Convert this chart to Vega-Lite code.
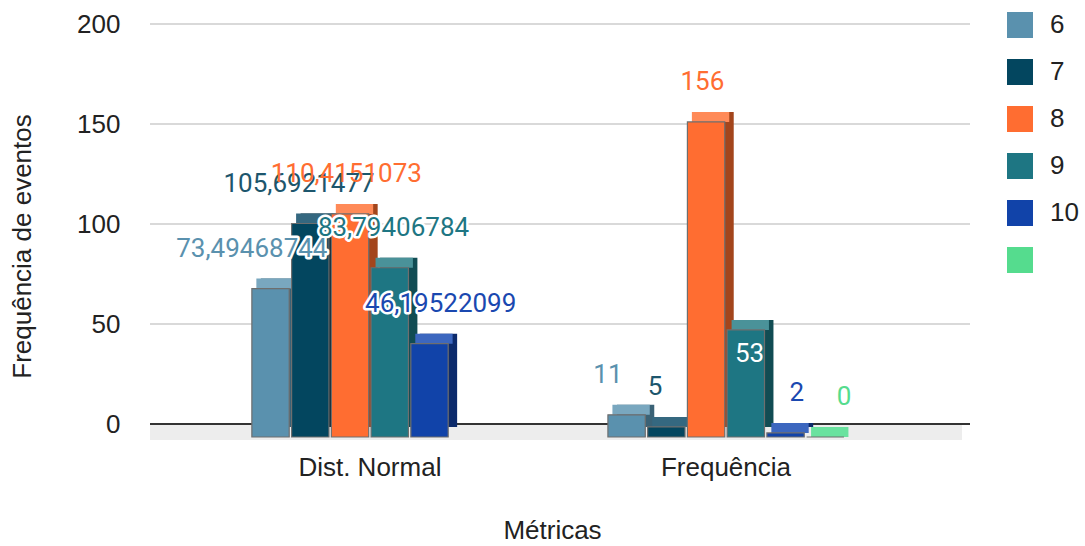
{
  "$schema": "https://vega.github.io/schema/vega-lite/v6.json",
  "width": 820,
  "height": 404,
  "autosize": {"type": "none"},
  "padding": {"left": 150, "top": 33, "right": 115, "bottom": 109},
  "background": "white",
  "config": {
    "view": {"stroke": null},
    "locale": {"number": {"decimal": ",", "thousands": ".", "grouping": [3], "currency": ["R$", ""]}},
    "font": "Liberation Sans"
  },
  "datasets": {
    "metricas": [
      {"metrica": "Dist. Normal", "serie": "6", "valor": 73.49468744},
      {"metrica": "Dist. Normal", "serie": "7", "valor": 105.6921477},
      {"metrica": "Dist. Normal", "serie": "8", "valor": 110.4151073},
      {"metrica": "Dist. Normal", "serie": "9", "valor": 83.79406784},
      {"metrica": "Dist. Normal", "serie": "10", "valor": 46.19522099},
      {"metrica": "Frequência", "serie": "6", "valor": 11},
      {"metrica": "Frequência", "serie": "7", "valor": 5},
      {"metrica": "Frequência", "serie": "8", "valor": 156},
      {"metrica": "Frequência", "serie": "9", "valor": 53},
      {"metrica": "Frequência", "serie": "10", "valor": 2},
      {"metrica": "Frequência", "serie": "", "valor": 0}
    ],
    "marcas": [{"tick": 0}, {"tick": 50}, {"tick": 100}, {"tick": 150}, {"tick": 200}]
  },
  "resolve": {"scale": {"y": "independent"}},
  "layer": [
    {
      "layer": [
        {
          "data": {"values": [{}]},
          "mark": {"type": "rect", "color": "#ededed", "xOffset": -8, "x2Offset": -13},
          "encoding": {
            "y": {"datum": 0, "type": "quantitative", "scale": {"domain": [0, 200], "range": [391, -9], "nice": false, "zero": false}, "title": "Frequência de eventos"},
            "y2": {"datum": -8}
          }
        },
        {
          "data": {"name": "marcas"},
          "mark": {"type": "rule"},
          "encoding": {
            "y": {
              "field": "tick",
              "type": "quantitative",
              "scale": {"domain": [0, 200], "range": [391, -9], "nice": false, "zero": false},
              "title": "Frequência de eventos",
              "axis": {
                "values": [0, 50, 100, 150, 200],
                "grid": false,
                "domain": false,
                "ticks": false,
                "tickSize": 0,
                "labelPadding": 30,
                "labelFont": "Liberation Sans",
                "labelFontSize": 26,
                "labelColor": "#222222",
                "titleFont": "Liberation Sans",
                "titleFontSize": 26,
                "titleFontWeight": "normal",
                "titleColor": "#222222",
                "titleAngle": -90,
                "titleBaseline": "middle",
                "titleX": -128,
                "titleY": 213
              }
            },
            "color": {"condition": {"test": "datum.tick === 0", "value": "#333333"}, "value": "#cccccc"},
            "strokeWidth": {"condition": {"test": "datum.tick === 0", "value": 2}, "value": 1.5}
          }
        }
      ]
    },
    {
      "data": {"name": "metricas"},
      "resolve": {"scale": {"xOffset": "independent", "color": "independent"}},
      "encoding": {
        "x": {
          "field": "metrica",
          "type": "nominal",
          "scale": {"domain": ["Dist. Normal", "Frequência"], "paddingInner": 0.337, "paddingOuter": 0.32, "align": 0.447},
          "title": "Métricas",
          "axis": {
            "domain": false,
            "ticks": false,
            "tickSize": 0,
            "grid": false,
            "labelAngle": 0,
            "labelPadding": 17,
            "labelFont": "Liberation Sans",
            "labelFontSize": 26,
            "labelColor": "#222222",
            "titleFont": "Liberation Sans",
            "titleFontSize": 26,
            "titleFontWeight": "normal",
            "titleColor": "#222222",
            "titleBaseline": "top",
            "titleX": 402,
            "titleY": 80
          }
        },
        "y": {"field": "valor", "type": "quantitative", "scale": {"domain": [0, 200], "nice": false}, "axis": null}
      },
      "layer": [
        {
          "mark": {"type": "bar", "yOffset": -10, "y2Offset": -10},
          "encoding": {
            "y2": {"datum": 0},
            "xOffset": {"field": "serie", "type": "nominal", "scale": {"domain": ["6", "7", "8", "9", "10", ""], "range": [9, 245], "paddingInner": 0.06, "paddingOuter": 0}},
            "color": {"field": "serie", "type": "nominal", "scale": {"domain": ["6", "7", "8", "9", "10", ""], "range": ["#3a6276", "#05202d", "#a3451c", "#114c53", "#0c2a6b", "#2f8a55"]}, "legend": null}
          }
        },
        {
          "mark": {"type": "bar", "yOffset": -10},
          "encoding": {
            "y2": {"field": "valor"},
            "xOffset": {"field": "serie", "type": "nominal", "scale": {"domain": ["6", "7", "8", "9", "10", ""], "range": [4.5, 240.5], "paddingInner": 0.06, "paddingOuter": 0}},
            "color": {"field": "serie", "type": "nominal", "scale": {"domain": ["6", "7", "8", "9", "10", ""], "range": ["#79a7bf", "#356880", "#ff8a58", "#4a9299", "#3c67bf", "#6ae29f"]}, "legend": null}
          }
        },
        {
          "mark": {"type": "bar", "stroke": "#6e6e6e", "strokeWidth": 1.2},
          "encoding": {
            "xOffset": {"field": "serie", "type": "nominal", "scale": {"domain": ["6", "7", "8", "9", "10", ""], "paddingInner": 0.06, "paddingOuter": 0}},
            "color": {
              "field": "serie",
              "type": "nominal",
              "scale": {"domain": ["6", "7", "8", "9", "10", ""], "range": ["#5a91ae", "#03465f", "#ff6d31", "#1e7683", "#1143a9", "#55dc8e"]},
              "legend": {
                "orient": "none",
                "legendX": 857,
                "legendY": -21,
                "title": null,
                "symbolType": "square",
                "symbolSize": 676,
                "symbolStrokeWidth": 0,
                "symbolOpacity": 1,
                "labelFont": "Liberation Sans",
                "labelFontSize": 26,
                "labelColor": "#222222",
                "labelOffset": 17,
                "rowPadding": 21
              }
            }
          }
        },
        {
          "transform": [{"filter": "!(datum.metrica === 'Frequência' && datum.serie === '9')"}],
          "mark": {"type": "text", "font": "Roboto", "fontSize": 26, "baseline": "middle", "dy": -40, "fill": "white", "stroke": "white", "strokeWidth": 5, "strokeJoin": "round"},
          "encoding": {
            "xOffset": {"field": "serie", "type": "nominal", "scale": {"domain": ["6", "7", "8", "9", "10", ""], "paddingInner": 0.06, "paddingOuter": 0}},
            "text": {"field": "valor", "type": "quantitative", "format": ".10~r"}
          }
        },
        {
          "transform": [{"filter": "!(datum.metrica === 'Frequência' && datum.serie === '9')"}],
          "mark": {"type": "text", "font": "Roboto", "fontSize": 26, "baseline": "middle", "dy": -40},
          "encoding": {
            "xOffset": {"field": "serie", "type": "nominal", "scale": {"domain": ["6", "7", "8", "9", "10", ""], "paddingInner": 0.06, "paddingOuter": 0}},
            "text": {"field": "valor", "type": "quantitative", "format": ".10~r"},
            "color": {"field": "serie", "type": "nominal", "scale": {"domain": ["6", "7", "8", "9", "10", ""], "range": ["#5a91ae", "#1d566d", "#ff6d31", "#1e7683", "#1a48b0", "#55dc8e"]}, "legend": null}
          }
        },
        {
          "transform": [{"filter": "datum.metrica === 'Frequência' && datum.serie === '9'"}],
          "mark": {"type": "text", "font": "Roboto", "fontSize": 26, "baseline": "middle", "dy": 24, "fill": "white"},
          "encoding": {
            "xOffset": {"field": "serie", "type": "nominal", "scale": {"domain": ["6", "7", "8", "9", "10", ""], "paddingInner": 0.06, "paddingOuter": 0}},
            "text": {"field": "valor", "type": "quantitative", "format": ".10~r"}
          }
        }
      ]
    }
  ]
}
